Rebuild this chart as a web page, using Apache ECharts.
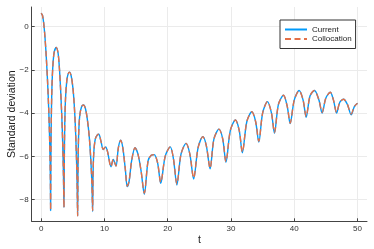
<!DOCTYPE html>
<html>
<head>
<meta charset="utf-8">
<script src="https://cdn.jsdelivr.net/npm/echarts@6/dist/echarts.min.js"></script>
<style>html,body{margin:0;padding:0;background:#fff}#c{width:374px;height:249px}</style>
</head>
<body>
<div id="c"></div>
<script>
const tVals = [0,0.2,0.4,0.6,0.8,1.0,1.2,1.35,1.45,1.49,
  1.53,1.6,1.7,1.85,2.05,2.37,2.65,2.85,3.05,3.25,3.4,3.52,3.6,
  3.65,3.72,3.85,4.05,4.25,4.49,4.75,5.0,5.2,5.4,5.57,5.68,5.76,
  5.82,5.92,6.1,6.4,6.7,7.0,7.3,7.6,7.85,8.02,8.13,
  8.2,8.32,8.55,8.85,9.1,9.45,9.81,10.19,10.5,11.03,11.39,11.82,12.2,12.56,12.9,13.3,13.6,13.9,14.3,14.83,15.3,15.8,16.3,
  16.9,17.4,17.85,18.4,18.9,19.6,20.4,20.9,21.45,22.1,22.9,23.5,24.1,24.8,25.55,26.1,26.7,27.3,28.1,28.7,29.2,29.9,30.7,31.3,31.8,
  32.5,33.3,33.9,34.4,35.0,35.76,36.4,36.87,37.5,38.3,38.9,39.35,40.0,40.77,41.4,41.88,42.5,43.2,43.9,44.4,45.0,45.7,46.2,46.7,47.2,47.8,48.4,49.0,49.5,50.0];
const current = [0.62,0.52,0.15,-0.5,-1.4,-2.5,-3.9,-5.4,-7.0,-8.5,
  -6.2,-4.2,-2.8,-1.8,-1.2,-0.97,-1.2,-1.8,-2.8,-4.1,-5.4,-6.9,-8.36,
  -6.3,-4.6,-3.3,-2.5,-2.2,-2.11,-2.3,-2.8,-3.5,-4.6,-6.0,-7.3,-8.75,
  -6.5,-5.0,-4.1,-3.7,-3.63,-3.8,-4.3,-5.1,-6.2,-7.3,-8.55,
  -6.8,-5.8,-5.2,-5.02,-4.98,-5.3,-5.68,-5.56,-5.8,-6.48,-6.14,-6.45,-5.6,-5.25,-5.6,-6.6,-7.4,-7.14,-6.2,-5.6,-5.9,-6.7,-7.75,
  -6.2,-5.95,-5.92,-6.3,-7.25,-6.0,-5.56,-6.1,-7.32,-5.9,-5.4,-5.9,-7.05,-5.6,-5.09,-5.5,-6.58,-5.2,-4.74,-5.2,-6.27,-4.8,-4.32,-4.8,-5.83,
  -4.4,-3.94,-4.4,-5.34,-4.0,-3.47,-4.0,-4.93,-3.6,-3.18,-3.7,-4.49,-3.4,-2.96,-3.4,-4.19,-3.2,-2.96,-3.4,-4.0,-3.3,-3.04,-3.4,-4.0,-3.5,-3.36,-3.6,-4.08,-3.7,-3.55];
const collocation = [0.62,0.52,0.15,-0.5,-1.4,-2.5,-3.9,-5.4,-7.0,-8.5,
  -6.2,-4.2,-2.8,-1.8,-1.2,-0.97,-1.2,-1.8,-2.8,-4.1,-5.4,-6.9,-8.36,
  -6.3,-4.6,-3.3,-2.5,-2.2,-2.11,-2.3,-2.8,-3.5,-4.6,-6.0,-7.3,-8.75,
  -6.5,-5.0,-4.1,-3.7,-3.63,-3.8,-4.3,-5.1,-6.2,-7.3,-8.5,
  -6.8,-5.8,-5.2,-5.02,-4.98,-5.3,-5.68,-5.56,-5.8,-6.48,-6.14,-6.45,-5.6,-5.25,-5.6,-6.6,-7.37,-7.14,-6.2,-5.6,-5.9,-6.7,-7.7,
  -6.2,-5.95,-5.92,-6.3,-7.2,-6.0,-5.56,-6.1,-7.28,-5.9,-5.4,-5.9,-7.0,-5.6,-5.09,-5.5,-6.55,-5.2,-4.74,-5.2,-6.24,-4.8,-4.32,-4.8,-5.8,
  -4.4,-3.94,-4.4,-5.3,-4.0,-3.47,-4.0,-4.9,-3.6,-3.18,-3.7,-4.46,-3.4,-2.96,-3.4,-4.16,-3.2,-2.96,-3.4,-3.97,-3.3,-3.04,-3.4,-3.97,-3.5,-3.36,-3.6,-4.04,-3.7,-3.55];
const xTicks = [0,10,20,30,40,50];
const yTicks = [-8,-6,-4,-2,0];
const seriesNames = ['Current','Collocation'];

const FONT = '"Liberation Sans", Arial, sans-serif';
const chart = echarts.init(document.getElementById('c'), null, {renderer:'canvas'});
const pair = arr => tVals.map((t,i)=>[t,arr[i]]);
chart.setOption({
  animation:false,
  backgroundColor:'#fff',
  textStyle:{fontFamily:FONT},
  grid:{left:31.7, right:7, top:7, bottom:27.7, containLabel:false, outerBoundsMode:'none'},
  legend:{
    left:280, top:20, orient:'vertical',
    itemWidth:22, itemHeight:8, itemGap:1.5,
    itemStyle:{opacity:0},
    padding:[5.5,4,5.5,4],
    borderColor:'#333', borderWidth:1, borderRadius:0,
    backgroundColor:'#fff',
    textStyle:{fontSize:8, color:'#222', fontFamily:FONT},
    data:seriesNames
  },
  xAxis:{
    type:'value', min:-1.5, max:51.5,
    name:'t', nameLocation:'middle', nameGap:13, nameMoveOverlap:false,
    nameTextStyle:{fontSize:10.5, color:'#222', fontFamily:FONT},
    axisLine:{show:true, onZero:false, lineStyle:{color:'#444', width:1}},
    axisTick:{show:true, inside:true, length:3, customValues:xTicks, lineStyle:{color:'#444'}},
    axisLabel:{customValues:xTicks, fontSize:8, color:'#333', margin:3, fontFamily:FONT},
    splitLine:{show:true, lineStyle:{color:'#ebebeb', width:1}}
  },
  yAxis:{
    type:'value', min:-9.0, max:0.9,
    name:'Standard deviation', nameLocation:'middle', nameGap:14, nameMoveOverlap:false,
    nameTextStyle:{fontSize:10.5, color:'#222', fontFamily:FONT},
    axisLine:{show:true, onZero:false, lineStyle:{color:'#444', width:1}},
    axisTick:{show:true, inside:true, length:3, customValues:yTicks, lineStyle:{color:'#444'}},
    axisLabel:{customValues:yTicks, fontSize:8, color:'#333', margin:3, fontFamily:FONT,
      formatter:v=> v<0 ? '\u2212'+Math.abs(v) : String(v)},
    splitLine:{show:true, lineStyle:{color:'#ebebeb', width:1}}
  },
  series:[
    {name:seriesNames[0], type:'line', data:pair(current), symbol:'none', smooth:0.3,
      lineStyle:{color:'#009AFA', width:1.4}, itemStyle:{color:'#009AFA'}, z:2},
    {name:seriesNames[1], type:'line', data:pair(collocation), symbol:'none', smooth:0.3,
      lineStyle:{color:'#E36F47', width:1.4, type:[6,3.5]}, itemStyle:{color:'#E36F47'}, z:3}
  ]
});
</script>
</body>
</html>
